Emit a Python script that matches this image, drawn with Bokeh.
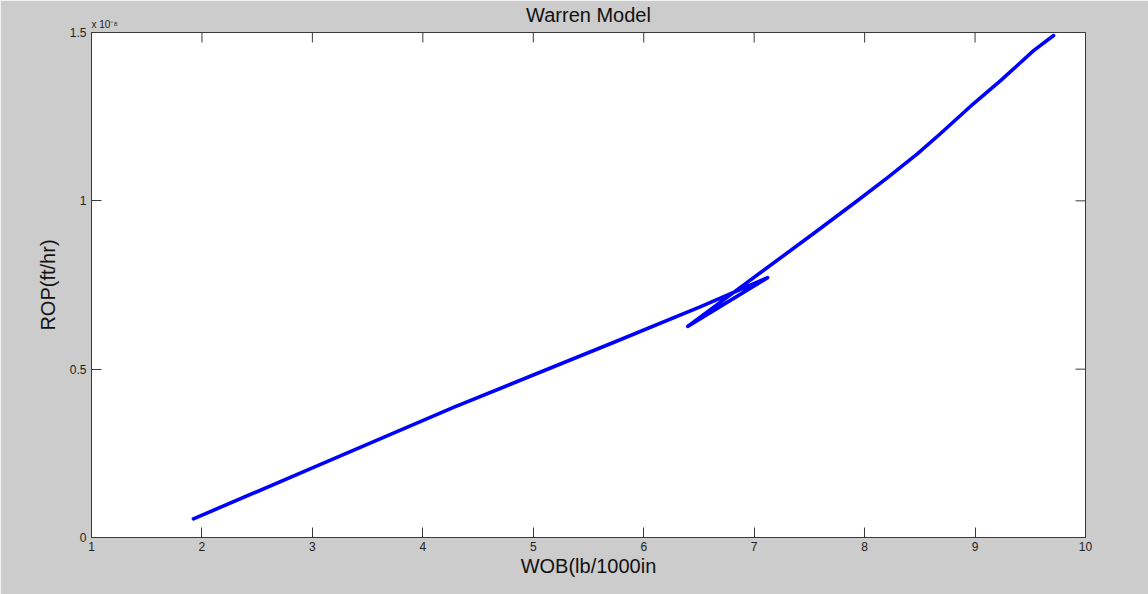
import math
from bokeh.plotting import figure
from bokeh.models import Title, FixedTicker, CustomJSTickFormatter, Range1d
from bokeh.embed import file_html
from bokeh.resources import INLINE

# Warren model: weight on bit vs. rate of penetration (path in solution order)
wob = [1.923, 3.016, 4.283, 5.731, 6.516, 7.122, 6.398,
       7.538, 7.937, 8.208, 8.480, 8.688, 8.987, 9.231, 9.530, 9.711]
rop = [0.0555e-8, 0.2088e-8, 0.387e-8, 0.580e-8, 0.686e-8, 0.772e-8, 0.627e-8,
       0.903e-8, 1.001e-8, 1.069e-8, 1.140e-8, 1.200e-8, 1.289e-8, 1.357e-8, 1.446e-8, 1.491e-8]

x_ticks = [1, 2, 3, 4, 5, 6, 7, 8, 9, 10]
y_ticks = [0, 0.5e-8, 1.0e-8, 1.5e-8]
X_MIN, X_MAX = 1, 10
Y_MIN, Y_MAX = 0, 1.5e-8

FONT = "Liberation Sans"
AXIS_COLOR = "#3a3a3a"

p = figure(width=1148, height=594, output_backend="svg", toolbar_location=None,
           x_range=Range1d(X_MIN, X_MAX), y_range=Range1d(Y_MIN, Y_MAX),
           background_fill_color="white", border_fill_color="#cccccc",
           min_border_left=91, min_border_right=63,
           min_border_top=32, min_border_bottom=57,
           x_axis_label="WOB(lb/1000in", y_axis_label="ROP(ft/hr)")
p.grid.visible = False
p.outline_line_color = AXIS_COLOR
p.outline_line_width = 1

ytick_fmt = CustomJSTickFormatter(code="""
    const v = Math.round(tick * 1e9) / 10;
    return v.toString();
""")

def style_axis(ax):
    ax.axis_line_color = AXIS_COLOR
    ax.major_tick_line_color = AXIS_COLOR
    ax.major_tick_in = 10
    ax.major_tick_out = 0
    ax.minor_tick_line_color = None
    ax.major_label_text_font = FONT
    ax.major_label_text_color = "#222222"
    ax.major_label_text_font_size = "12px"
    ax.axis_label_text_font = FONT
    ax.axis_label_text_font_size = "20px"
    ax.axis_label_text_font_style = "normal"
    ax.axis_label_text_color = "#111111"

xb = p.xaxis[0]
xb.ticker = FixedTicker(ticks=x_ticks)
style_axis(xb)
xb.major_label_standoff = 4
xb.axis_label_standoff = 1

yl = p.yaxis[0]
yl.ticker = FixedTicker(ticks=y_ticks)
yl.formatter = ytick_fmt
style_axis(yl)
yl.major_label_standoff = 5
yl.axis_label_standoff = 8

# mirrored tick marks on the top and right edges of the box (half hidden by the frame clip)
p.scatter(x_ticks, [Y_MAX] * len(x_ticks), marker="dash", size=20, angle=math.pi / 2,
          line_color=AXIS_COLOR, line_width=1)
p.scatter([X_MAX] * len(y_ticks), y_ticks, marker="dash", size=20,
          line_color=AXIS_COLOR, line_width=1)

p.line(wob, rop, line_color="#0000ff", line_width=3.6, line_join="round", line_cap="round")

# exponent of the y axis (nearest the box), then the title above it
exp_title = Title(text="x 10\u207b\u2078", align="left", offset=0, standoff=6,
                  text_font=FONT, text_font_size="10px", text_font_style="normal",
                  text_color="#222222")
main_title = Title(text="Warren Model", align="center", standoff=0,
                   text_font=FONT, text_font_size="20px", text_font_style="normal",
                   text_color="#111111")
try:
    main_title.standoff = -24
except ValueError:
    pass
p.add_layout(exp_title, "above")
p.add_layout(main_title, "above")

open("out.html", "w").write(file_html(p, INLINE))
